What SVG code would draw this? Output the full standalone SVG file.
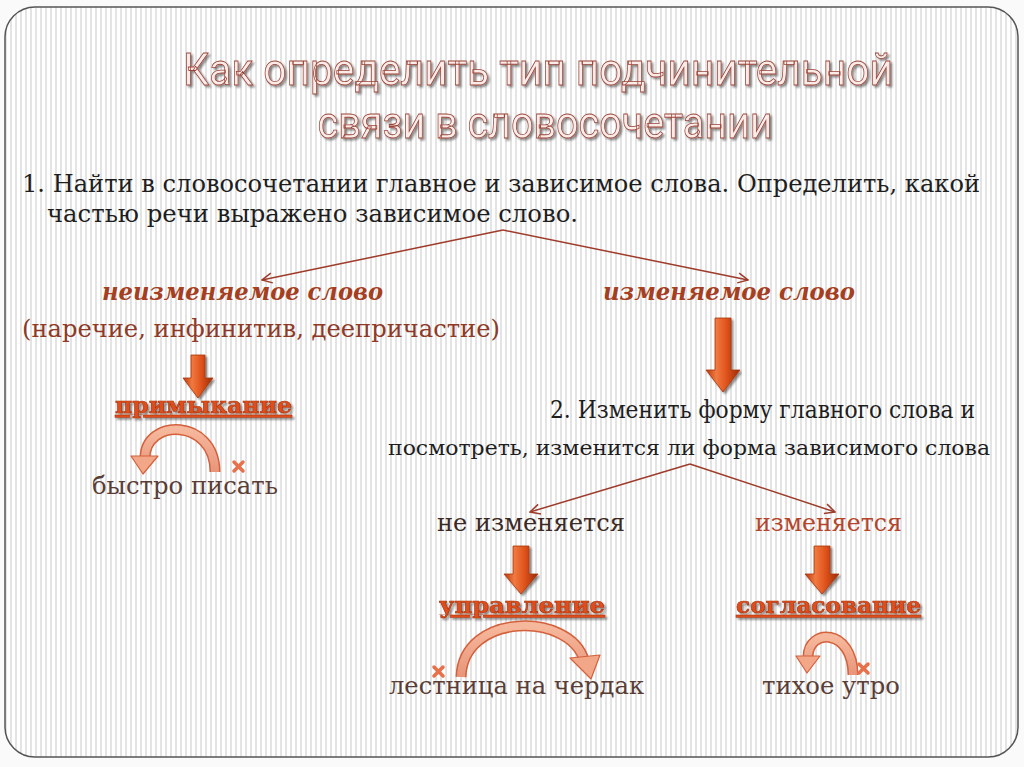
<svg xmlns="http://www.w3.org/2000/svg" width="1024" height="767" viewBox="0 0 1024 767">
<defs>
<pattern id="stripes" x="0" y="0" width="5" height="10" patternUnits="userSpaceOnUse">
<rect width="5" height="10" fill="#ffffff"/>
<rect x="0" width="2" height="10" fill="#e4e4e4"/>
</pattern>
<linearGradient id="arrowG" x1="0" y1="0" x2="1" y2="0">
<stop offset="0" stop-color="#b8380e"/>
<stop offset="0.3" stop-color="#f07a40"/>
<stop offset="0.6" stop-color="#e0531c"/>
<stop offset="1" stop-color="#9a2c08"/>
</linearGradient>
<linearGradient id="arcG" x1="0" y1="0" x2="0" y2="1">
<stop offset="0" stop-color="#f6b89c"/>
<stop offset="1" stop-color="#e8957a"/>
</linearGradient>
<marker id="open" viewBox="0 0 12 12" refX="11" refY="6" markerWidth="12" markerHeight="12" markerUnits="userSpaceOnUse" orient="auto">
<path d="M1 1 L11 6 L1 11" fill="none" stroke="#9e3b2a" stroke-width="1.5"/>
</marker>
<filter id="sh" x="-5%" y="-20%" width="110%" height="140%">
<feGaussianBlur in="SourceAlpha" stdDeviation="1.2"/>
<feOffset dx="1.5" dy="1.5" result="b"/>
<feComponentTransfer><feFuncA type="linear" slope="0.45"/></feComponentTransfer>
<feMerge><feMergeNode/><feMergeNode in="SourceGraphic"/></feMerge>
</filter>
</defs>
<style>
.title{font-family:Roboto,"Open Sans","Liberation Sans",sans-serif;font-size:44px;fill:#fbecea;stroke:#9a4437;stroke-width:0.8px;text-anchor:middle}
.body{font-family:"DejaVu Serif","Liberation Serif",serif;font-size:24px;fill:#1e1e1e}
.head{font-family:"DejaVu Serif","Liberation Serif",serif;font-size:24px;font-weight:bold;font-style:italic;fill:#a53f1f}
.paren{font-family:"DejaVu Serif","Liberation Serif",serif;font-size:25px;fill:#8e3a27}
.type{font-family:"DejaVu Serif","Liberation Serif",serif;font-size:23px;font-weight:bold;fill:#e04e1c;stroke:#a8330e;stroke-width:0.6px;text-decoration:underline}
.ex{font-family:"DejaVu Serif","Liberation Serif",serif;font-size:25px;fill:#5a3e36}
.conn{fill:none;stroke:#9e3b2a;stroke-width:1.5;marker-end:url(#open)}
.blk{fill:url(#arrowG);stroke:#a8360e;stroke-width:0.8}
.arcO{fill:none;stroke:#d4603c;stroke-width:11}
.arcI{fill:none;stroke:url(#arcG);stroke-width:8}
.arh{fill:#f2a888;stroke:#d4603c;stroke-width:1.2;stroke-linejoin:round}
.x{stroke:#e8704a;stroke-width:3.5;stroke-linecap:round}
</style>
<rect width="1024" height="767" fill="#fafafa"/>
<rect x="5" y="7" width="1013" height="750" rx="30" fill="url(#stripes)" stroke="#555555" stroke-width="1.5"/>

<g id="title" filter="url(#sh)">
<text class="title" x="538" y="85" textLength="710" lengthAdjust="spacingAndGlyphs">Как определить тип подчинительной</text>
<text class="title" x="545" y="138" textLength="455" lengthAdjust="spacingAndGlyphs">связи в словосочетании</text>
</g>

<g id="connectors">
<path class="conn" d="M503 230 L262 280"/>
<path class="conn" d="M503 230 L748 280"/>
<path class="conn" d="M690 464 L530 512"/>
<path class="conn" d="M690 464 L835 512"/>
</g>

<g id="step1">
<text class="body" x="22" y="192" textLength="958" lengthAdjust="spacingAndGlyphs">1. Найти в словосочетании главное и зависимое слова. Определить, какой</text>
<text class="body" x="47" y="222" textLength="531" lengthAdjust="spacingAndGlyphs">частью речи выражено зависимое слово.</text>
</g>

<g id="unchangeable">
<text class="head" x="102" y="300" textLength="281" lengthAdjust="spacingAndGlyphs">неизменяемое слово</text>
<text class="paren" x="22" y="337" textLength="478" lengthAdjust="spacingAndGlyphs">(наречие, инфинитив, деепричастие)</text>
</g>

<g id="changeable">
<text class="head" x="603" y="300" textLength="252" lengthAdjust="spacingAndGlyphs">изменяемое слово</text>
</g>

<g id="arrow-left" filter="url(#sh)">
<path class="blk" d="M191 355 L205 355 L205 378 L213 378 L198 398 L183 378 L191 378 Z"/>
</g>

<g id="primykanie">
<text class="type" x="115" y="413" textLength="177" lengthAdjust="spacingAndGlyphs" filter="url(#sh)">примыкание</text>
<path class="arcO" d="M215 472 C215 418 145 418 145 458"/>
<path class="arcI" d="M215 472 C215 418 145 418 145 458"/>
<path class="arh" d="M131 456 L158 456 L143 474 Z"/>
<g class="x"><line x1="234" y1="462" x2="243" y2="471"/><line x1="243" y1="462" x2="234" y2="471"/></g>
<text class="ex" x="92" y="494" textLength="186" lengthAdjust="spacingAndGlyphs">быстро писать</text>
</g>

<g id="arrow-right" filter="url(#sh)">
<path class="blk" d="M715 318 L731 318 L731 370 L740 370 L723 392 L706 370 L715 370 Z"/>
</g>

<g id="step2">
<text class="body" x="975" y="418" text-anchor="end" textLength="425" lengthAdjust="spacingAndGlyphs">2. Изменить форму главного слова и</text>
<text class="body" x="689" y="455" font-size="21" text-anchor="middle" textLength="602" lengthAdjust="spacingAndGlyphs" style="font-size:21px">посмотреть, изменится ли  форма зависимого слова</text>
</g>

<g id="not-changes">
<text class="ex" x="437" y="531" textLength="188" lengthAdjust="spacingAndGlyphs" style="fill:#3c2a24">не изменяется</text>
</g>

<g id="changes">
<text class="ex" x="755" y="531" textLength="147" lengthAdjust="spacingAndGlyphs" style="fill:#b5452a">изменяется</text>
</g>

<g id="arrow-upr" filter="url(#sh)">
<path class="blk" d="M513 546 L529 546 L529 574 L538 574 L521 594 L504 574 L513 574 Z"/>
</g>

<g id="arrow-sogl" filter="url(#sh)">
<path class="blk" d="M814 546 L830 546 L830 574 L839 574 L822 594 L805 574 L814 574 Z"/>
</g>

<g id="upravlenie">
<text class="type" x="439" y="613" textLength="166" lengthAdjust="spacingAndGlyphs" filter="url(#sh)">управление</text>
<path class="arcO" d="M461 677 C463 612 570 612 584 660"/>
<path class="arcI" d="M461 677 C463 612 570 612 584 660"/>
<path class="arh" d="M570 658 L600 655 L591 679 Z"/>
<g class="x"><line x1="434" y1="667" x2="443" y2="676"/><line x1="443" y1="667" x2="434" y2="676"/></g>
<text class="ex" x="389" y="694" textLength="255" lengthAdjust="spacingAndGlyphs">лестница на чердак</text>
</g>

<g id="soglasovanie">
<text class="type" x="736" y="613" textLength="185" lengthAdjust="spacingAndGlyphs" filter="url(#sh)">согласование</text>
<path class="arcO" d="M853 675 C853 628 808 628 808 657"/>
<path class="arcI" d="M853 675 C853 628 808 628 808 657"/>
<path class="arh" d="M796 656 L820 656 L807 673 Z"/>
<g class="x"><line x1="859" y1="664" x2="868" y2="673"/><line x1="868" y1="664" x2="859" y2="673"/></g>
<text class="ex" x="762" y="694" textLength="138" lengthAdjust="spacingAndGlyphs">тихое утро</text>
</g>
</svg>
